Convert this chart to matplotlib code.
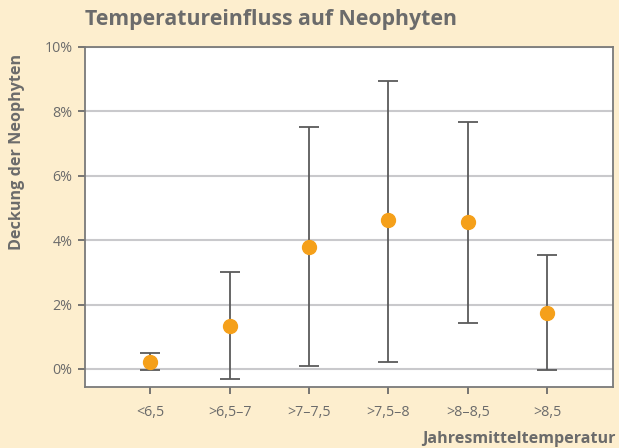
import matplotlib.pyplot as plt
from matplotlib.ticker import FuncFormatter

# Werte (in %)
kategorien = ['<6,5', '>6,5–7', '>7–7,5', '>7,5–8', '>8–8,5', '>8,5']
mittel = [0.22, 1.33, 3.79, 4.62, 4.57, 1.74]
oben = [0.50, 3.00, 7.52, 8.94, 7.67, 3.54]
unten = [-0.03, -0.31, 0.09, 0.22, 1.43, -0.03]

bg = '#fdeece'
grau = '#6b6b6b'
plt.rcParams['font.family'] = ['Open Sans', 'DejaVu Sans']

fig = plt.figure(figsize=(6.19, 4.48), dpi=100, facecolor=bg)
ax = fig.add_axes([85 / 619, 1 - 387 / 448, 528 / 619, 340 / 448])
ax.set_facecolor('white')

x = list(range(len(kategorien)))
fehler = [[m - u for m, u in zip(mittel, unten)], [o - m for o, m in zip(oben, mittel)]]
ax.errorbar(x, mittel, yerr=fehler, fmt='none', ecolor='#5a5a5a', elinewidth=1.3,
            capsize=7.2, capthick=1.3, zorder=3)
ax.plot(x, mittel, 'o', color='#f5a01a', markersize=10, zorder=4)

ax.set_xlim(-0.82, 5.83)
ax.set_ylim(-0.56, 10)
ax.set_yticks([0, 2, 4, 6, 8, 10])
ax.yaxis.set_major_formatter(FuncFormatter(lambda v, p: f'{v:.0f}%'))
ax.set_xticks(x)
ax.set_xticklabels(kategorien)
ax.grid(axis='y', color='#c9c9cc', linewidth=1.5, zorder=0)
ax.set_axisbelow(True)

for s in ax.spines.values():
    s.set_color('#7a7a7a')
    s.set_linewidth(1.3)
ax.tick_params(colors=grau, labelsize=10.3, length=5, width=1.3, direction='out')
ax.tick_params(axis='x', pad=8)
ax.tick_params(axis='y', pad=4)

fig.text(85 / 619, 1 - 20 / 448, 'Temperatureinfluss auf Neophyten', fontsize=15.3,
         fontweight='bold', color=grau, va='center', ha='left')
fig.text(17 / 619, 1 - 152 / 448, 'Deckung der Neophyten', fontsize=11.6, fontweight='bold',
         color=grau, rotation=90, va='center', ha='center')
fig.text(616 / 619, 1 - 439 / 448, 'Jahresmitteltemperatur', fontsize=11.6, fontweight='bold',
         color=grau, va='center', ha='right')

fig.savefig('out.png', dpi=100, facecolor=bg)
